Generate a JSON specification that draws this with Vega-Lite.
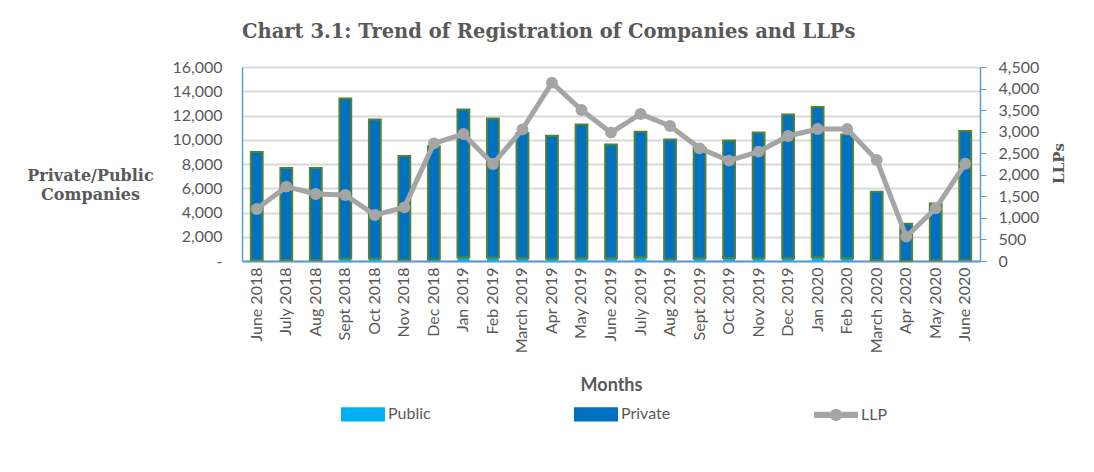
{
  "$schema": "https://vega.github.io/schema/vega-lite/v6.json",
  "width": 738,
  "height": 194,
  "autosize": {"type": "none"},
  "padding": {"left": 242, "top": 67, "right": 114, "bottom": 211},
  "background": "white",
  "config": {"view": {"stroke": null}, "font": "Lato"},
  "title": {
    "text": "Chart 3.1: Trend of Registration of Companies and LLPs",
    "anchor": "start",
    "frame": "group",
    "font": "DejaVu Serif",
    "fontSize": 19.5,
    "fontWeight": "bold",
    "color": "#595959",
    "offset": 17
  },
  "datasets": {
    "companies": [
      {"month": "June 2018", "type": "Public", "value": 80}, {"month": "June 2018", "type": "Private", "value": 8920},
      {"month": "July 2018", "type": "Public", "value": 80}, {"month": "July 2018", "type": "Private", "value": 7600},
      {"month": "Aug 2018", "type": "Public", "value": 80}, {"month": "Aug 2018", "type": "Private", "value": 7600},
      {"month": "Sept 2018", "type": "Public", "value": 200}, {"month": "Sept 2018", "type": "Private", "value": 13200},
      {"month": "Oct 2018", "type": "Public", "value": 200}, {"month": "Oct 2018", "type": "Private", "value": 11470},
      {"month": "Nov 2018", "type": "Public", "value": 100}, {"month": "Nov 2018", "type": "Private", "value": 8570},
      {"month": "Dec 2018", "type": "Public", "value": 120}, {"month": "Dec 2018", "type": "Private", "value": 9350},
      {"month": "Jan 2019", "type": "Public", "value": 300}, {"month": "Jan 2019", "type": "Private", "value": 12190},
      {"month": "Feb 2019", "type": "Public", "value": 280}, {"month": "Feb 2019", "type": "Private", "value": 11470},
      {"month": "March 2019", "type": "Public", "value": 220}, {"month": "March 2019", "type": "Private", "value": 10345},
      {"month": "Apr 2019", "type": "Public", "value": 200}, {"month": "Apr 2019", "type": "Private", "value": 10120},
      {"month": "May 2019", "type": "Public", "value": 220}, {"month": "May 2019", "type": "Private", "value": 11040},
      {"month": "June 2019", "type": "Public", "value": 220}, {"month": "June 2019", "type": "Private", "value": 9390},
      {"month": "July 2019", "type": "Public", "value": 300}, {"month": "July 2019", "type": "Private", "value": 10350},
      {"month": "Aug 2019", "type": "Public", "value": 150}, {"month": "Aug 2019", "type": "Private", "value": 9870},
      {"month": "Sept 2019", "type": "Public", "value": 220}, {"month": "Sept 2019", "type": "Private", "value": 9110},
      {"month": "Oct 2019", "type": "Public", "value": 250}, {"month": "Oct 2019", "type": "Private", "value": 9690},
      {"month": "Nov 2019", "type": "Public", "value": 220}, {"month": "Nov 2019", "type": "Private", "value": 10380},
      {"month": "Dec 2019", "type": "Public", "value": 220}, {"month": "Dec 2019", "type": "Private", "value": 11860},
      {"month": "Jan 2020", "type": "Public", "value": 300}, {"month": "Jan 2020", "type": "Private", "value": 12410},
      {"month": "Feb 2020", "type": "Public", "value": 220}, {"month": "Feb 2020", "type": "Private", "value": 10210},
      {"month": "March 2020", "type": "Public", "value": 80}, {"month": "March 2020", "type": "Private", "value": 5630},
      {"month": "Apr 2020", "type": "Public", "value": 30}, {"month": "Apr 2020", "type": "Private", "value": 3040},
      {"month": "May 2020", "type": "Public", "value": 60}, {"month": "May 2020", "type": "Private", "value": 4690},
      {"month": "June 2020", "type": "Public", "value": 100}, {"month": "June 2020", "type": "Private", "value": 10630}
    ],
    "llp": [
      {"month": "June 2018", "llp": 1206}, {"month": "July 2018", "llp": 1724}, {"month": "Aug 2018", "llp": 1554},
      {"month": "Sept 2018", "llp": 1531}, {"month": "Oct 2018", "llp": 1067}, {"month": "Nov 2018", "llp": 1245},
      {"month": "Dec 2018", "llp": 2729}, {"month": "Jan 2019", "llp": 2946}, {"month": "Feb 2019", "llp": 2250},
      {"month": "March 2019", "llp": 3054}, {"month": "Apr 2019", "llp": 4136}, {"month": "May 2019", "llp": 3503},
      {"month": "June 2019", "llp": 2977}, {"month": "July 2019", "llp": 3410}, {"month": "Aug 2019", "llp": 3131},
      {"month": "Sept 2019", "llp": 2613}, {"month": "Oct 2019", "llp": 2327}, {"month": "Nov 2019", "llp": 2536},
      {"month": "Dec 2019", "llp": 2900}, {"month": "Jan 2020", "llp": 3062}, {"month": "Feb 2020", "llp": 3062},
      {"month": "March 2020", "llp": 2343}, {"month": "Apr 2020", "llp": 564}, {"month": "May 2020", "llp": 1222},
      {"month": "June 2020", "llp": 2257}
    ]
  },
  "layer": [
    {
      "data": {"name": "companies"},
      "mark": {"type": "bar", "strokeWidth": 2},
      "encoding": {
        "x": {
          "field": "month",
          "type": "nominal",
          "sort": ["June 2018","July 2018","Aug 2018","Sept 2018","Oct 2018","Nov 2018","Dec 2018","Jan 2019","Feb 2019","March 2019","Apr 2019","May 2019","June 2019","July 2019","Aug 2019","Sept 2019","Oct 2019","Nov 2019","Dec 2019","Jan 2020","Feb 2020","March 2020","Apr 2020","May 2020","June 2020"],
          "scale": {"paddingInner": 0.6, "paddingOuter": 0.3},
          "axis": {
            "title": "Months",
            "labelAngle": -90,
            "ticks": false,
            "labelPadding": 6,
            "domainColor": "#5B9BD5",
            "domainWidth": 2,
            "labelFont": "Lato",
            "labelFontSize": 16,
            "labelColor": "#595959",
            "titleFont": "Lato",
            "titleFontSize": 18,
            "titleFontWeight": "bold",
            "titleColor": "#595959",
            "titlePadding": 24
          }
        },
        "y": {
          "field": "value",
          "type": "quantitative",
          "stack": "zero",
          "scale": {"domain": [0, 16000]},
          "axis": {
            "title": ["Private/Public", "Companies"],
            "titleAngle": 0,
            "titleX": -152,
            "titleY": 100,
            "titleAlign": "center",
            "titleBaseline": "top",
            "titleFont": "DejaVu Serif",
            "titleFontSize": 16,
            "titleFontWeight": "bold",
            "titleColor": "#595959",
            "titleLineHeight": 19,
            "values": [0, 2000, 4000, 6000, 8000, 10000, 12000, 14000, 16000],
            "labelExpr": "datum.value === 0 ? '-\u00a0\u00a0' : format(datum.value, ',')",
            "ticks": false,
            "labelPadding": 20,
            "domainColor": "#5B9BD5",
            "domainWidth": 1.5,
            "grid": true,
            "gridColor": "#D9D9D9",
            "gridWidth": 2,
            "labelFont": "Lato",
            "labelFontSize": 16,
            "labelColor": "#595959"
          }
        },
        "color": {
          "field": "type",
          "type": "nominal",
          "scale": {"domain": ["Public", "Private", "LLP"], "range": ["#00B0F0", "#0070C0", "#A5A5A5"]},
          "legend": {
            "orient": "none",
            "legendX": 99,
            "legendY": 325,
            "direction": "horizontal",
            "title": null,
            "padding": 0,
            "columnPadding": 140,
            "labelOffset": 3,
            "labelFont": "Lato",
            "labelFontSize": 16,
            "labelColor": "#595959",
            "symbolSize": 1764,
            "symbolOpacity": 1,
            "symbolStrokeWidth": 2,
            "symbolType": {"expr": "datum.value === 'LLP' ? 'M-1,-0.1H1V0.1H-1Z M0.25,0A0.25,0.25 0 1 1 -0.25,0A0.25,0.25 0 1 1 0.25,0' : 'M-1,-0.29H1V0.29H-1Z'"},
            "symbolStrokeColor": {"expr": "datum.value === 'Private' ? '#548235' : 'transparent'"}
          }
        },
        "order": {"field": "type", "sort": "descending"},
        "stroke": {"condition": {"test": "datum.type === 'Private'", "value": "#548235"}, "value": "transparent"}
      }
    },
    {
      "data": {"name": "llp"},
      "mark": {"type": "line", "strokeWidth": 5, "point": {"filled": true, "size": 140, "opacity": 1}},
      "encoding": {
        "x": {
          "field": "month",
          "type": "nominal",
          "sort": ["June 2018","July 2018","Aug 2018","Sept 2018","Oct 2018","Nov 2018","Dec 2018","Jan 2019","Feb 2019","March 2019","Apr 2019","May 2019","June 2019","July 2019","Aug 2019","Sept 2019","Oct 2019","Nov 2019","Dec 2019","Jan 2020","Feb 2020","March 2020","Apr 2020","May 2020","June 2020"]
        },
        "y": {
          "field": "llp",
          "type": "quantitative",
          "scale": {"domain": [0, 4500]},
          "axis": {
            "orient": "right",
            "title": "LLPs",
            "titleAngle": 270,
            "titleX": 78,
            "titleY": 96,
            "titleAlign": "center",
            "titleBaseline": "middle",
            "titleFont": "DejaVu Serif",
            "titleFontSize": 15,
            "titleFontWeight": "bold",
            "titleColor": "#595959",
            "values": [0, 500, 1000, 1500, 2000, 2500, 3000, 3500, 4000, 4500],
            "labelExpr": "format(datum.value, ',')",
            "grid": false,
            "ticks": true,
            "tickColor": "#5B9BD5",
            "tickSize": 6,
            "labelPadding": 12,
            "domainColor": "#5B9BD5",
            "domainWidth": 1.5,
            "labelFont": "Lato",
            "labelFontSize": 16,
            "labelColor": "#595959"
          }
        },
        "color": {"datum": "LLP", "legend": null}
      }
    }
  ],
  "resolve": {"scale": {"y": "independent"}}
}
